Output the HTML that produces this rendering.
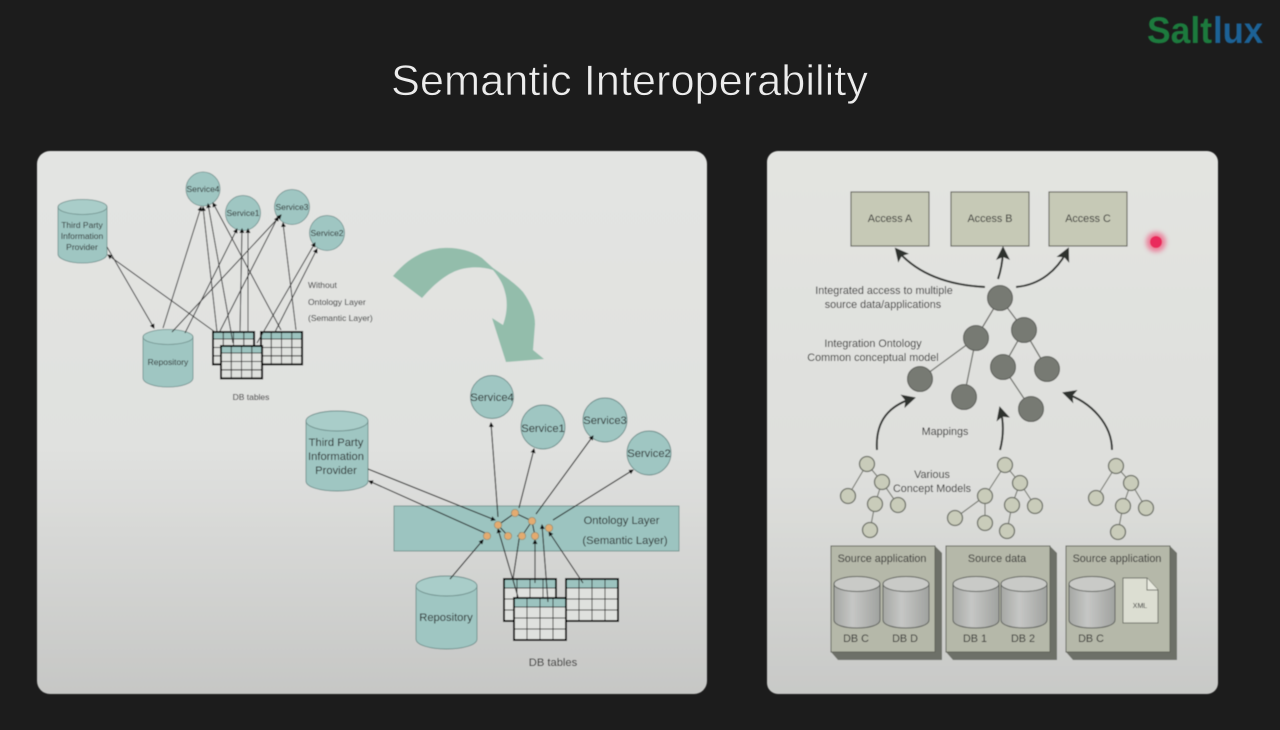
<!DOCTYPE html>
<html><head><meta charset="utf-8"><style>
html,body{margin:0;padding:0;background:#1c1c1c;width:1280px;height:730px;overflow:hidden}
svg{display:block}
text{font-family:"Liberation Sans",sans-serif}
</style></head><body>
<svg width="1280" height="730" viewBox="0 0 1280 730" xmlns="http://www.w3.org/2000/svg">
<defs>
<linearGradient id="p1" x1="0" y1="0" x2="0" y2="1"><stop offset="0" stop-color="#e3e4e2"/><stop offset=".55" stop-color="#e0e1df"/><stop offset="1" stop-color="#c6c7c5"/></linearGradient>
<linearGradient id="p2" x1="0" y1="0" x2="0" y2="1"><stop offset="0" stop-color="#e3e4e1"/><stop offset=".6" stop-color="#dedfdc"/><stop offset="1" stop-color="#c8c9c7"/></linearGradient>
<linearGradient id="db" x1="0" y1="0" x2="1" y2="0"><stop offset="0" stop-color="#a5a7a4"/><stop offset=".4" stop-color="#c6c7c5"/><stop offset="1" stop-color="#a0a29f"/></linearGradient>
<filter id="soft" x="-5%" y="-5%" width="110%" height="110%"><feGaussianBlur stdDeviation="0.5"/></filter>
<filter id="glow" x="-80%" y="-80%" width="260%" height="260%"><feGaussianBlur stdDeviation="2.5"/></filter>
<marker id="a" markerUnits="userSpaceOnUse" markerWidth="6" markerHeight="6" refX="4" refY="2.5" orient="auto"><path d="M0 0L5 2.5L0 5Z" fill="#111"/></marker>
<marker id="b" markerUnits="userSpaceOnUse" markerWidth="18" markerHeight="18" refX="12" refY="7" orient="auto"><path d="M0 0L14 7L0 14L3 7Z" fill="#2f312f"/></marker>
<g id="tbl">
<rect width="52" height="42" fill="#dfe1de"/>
<rect width="52" height="9" fill="#9cc3bf"/>
<path d="M13 0V42M26 0V42M39 0V42M0 9H52M0 20H52M0 31H52" stroke="#222" stroke-width=".9" fill="none" vector-effect="non-scaling-stroke"/>
<rect width="52" height="42" fill="none" stroke="#000" stroke-width="2" vector-effect="non-scaling-stroke"/>
</g>
<g id="dbc">
<path d="M0 8V44C0 49 10 52 23 52S46 49 46 44V8Z" fill="url(#db)" stroke="#5f625d" stroke-width="1"/>
<ellipse cx="23" cy="8" rx="23" ry="7.500" fill="#c9cac7" stroke="#5f625d" stroke-width="1"/>
</g>
<g id="box">
<path d="M104 0L111 7V114H7L0 106H104Z" fill="#6d7067"/>
<rect width="104" height="106" fill="#b5b8a9" stroke="#62655c" stroke-width="1"/>
</g>
</defs>

<rect width="1280" height="730" fill="#1c1c1c"/>
<text x="629.5" y="95" font-size="43" fill="#ececec" stroke="#1c1c1c" stroke-width=".7" text-anchor="middle" textLength="477" lengthAdjust="spacingAndGlyphs">Semantic Interoperability</text>
<g filter="url(#soft)">
<text x="1147" y="43" font-size="37" font-weight="bold" fill="#1f7a3e" textLength="65" lengthAdjust="spacingAndGlyphs">Salt</text>
<text x="1213" y="43" font-size="37" font-weight="bold" fill="#1f6296" textLength="50" lengthAdjust="spacingAndGlyphs">lux</text>
</g>

<g filter="url(#soft)">
<rect x="37" y="151" width="670" height="543" rx="13" fill="url(#p1)"/>
<rect x="767" y="151" width="451" height="543" rx="11" fill="url(#p2)"/>

<!-- big arrow -->
<path d="M393 276C408 258 425 249 443 248C458 247 472 251 482 258L493 268C506 277 517 285 523 292C531 303 535 314 535 324L533 350L544 359L506 362L492 318L503 325C507 314 508 302 505 292C503 283 498 276 493 270C484 267 475 267 467 268C450 270 435 283 422 298Z" fill="#93bdab"/>

<!-- LEFT top diagram -->
<g fill="#9fc6c2" stroke="#6f8f8c" stroke-width=".8">
<path d="M58 207V254C58 259 69 263 82.500 263S107 259 107 254V207Z"/><ellipse cx="82.500" cy="207" rx="24.500" ry="7.500" fill="#a9cdc9"/>
<path d="M143 337V378C143 383 154 387 168 387S193 383 193 378V337Z"/><ellipse cx="168" cy="337" rx="25" ry="7.500" fill="#a9cdc9"/>
<circle cx="203" cy="189" r="17"/><circle cx="243" cy="213" r="17.500"/><circle cx="292" cy="207" r="17.500"/><circle cx="327" cy="233" r="17.500"/>
</g>
<use href="#tbl" transform="translate(213 332) scale(.79 .77)"/>
<use href="#tbl" transform="translate(261 332) scale(.79 .77)"/>
<g stroke="#333" stroke-width="1" fill="none">
<path d="M107 247L154 328" marker-end="url(#a)"/>
<path d="M215 332L108 255" marker-end="url(#a)"/>
<path d="M163 328L201 207" marker-end="url(#a)"/>
<path d="M172 332L281 215" marker-end="url(#a)"/>
<path d="M185 333L237 229" marker-end="url(#a)"/>
<path d="M217 332L203 207" marker-end="url(#a)"/>
<path d="M233 343L208 204" marker-end="url(#a)"/>
<path d="M220 331L278 217" marker-end="url(#a)"/>
<path d="M240 332L242 229" marker-end="url(#a)"/>
<path d="M248 332L248 229" marker-end="url(#a)"/>
<path d="M257 343L315 243" marker-end="url(#a)"/>
<path d="M275 332L317 249" marker-end="url(#a)"/>
<path d="M296 330L283 223" marker-end="url(#a)"/>
<path d="M281 330L213 203" marker-end="url(#a)"/>
</g>
<use href="#tbl" transform="translate(221 346) scale(.79 .77)"/>
<g font-size="8.500" fill="#222" text-anchor="middle">
<text x="82" y="228">Third Party</text><text x="82" y="239">Information</text><text x="82" y="250">Provider</text>
<text x="168" y="365">Repository</text>
<text x="203" y="192">Service4</text><text x="243" y="216">Service1</text><text x="292" y="210">Service3</text><text x="327" y="236">Service2</text>
<text x="251" y="400">DB tables</text>
<text x="308" y="288" text-anchor="start">Without</text>
<text x="308" y="305" text-anchor="start">Ontology Layer</text>
<text x="308" y="321" text-anchor="start">(Semantic Layer)</text>
</g>

<!-- LEFT bottom diagram -->
<g fill="#9fc6c2" stroke="#6f8f8c" stroke-width=".9">
<path d="M306 421V481C306 487 320 491 337 491S368 487 368 481V421Z"/><ellipse cx="337" cy="421" rx="31" ry="10" fill="#a9cdc9"/>
<path d="M416 586V639C416 645 430 649 446.500 649S477 645 477 639V586Z"/><ellipse cx="446.500" cy="586" rx="30.500" ry="10" fill="#a9cdc9"/>
<circle cx="492" cy="397" r="21.500"/><circle cx="543" cy="427" r="22"/><circle cx="605" cy="420" r="22"/><circle cx="649" cy="453" r="22"/>
<rect x="394" y="506" width="285" height="45" fill="#9cc4c0"/>
</g>
<use href="#tbl" transform="translate(504 579)"/>
<use href="#tbl" transform="translate(566 579)"/>
<use href="#tbl" transform="translate(514 598)"/>
<g stroke="#222" stroke-width="1.100" fill="none">
<path d="M368 469L495 520" marker-end="url(#a)"/>
<path d="M485 533L369 481" marker-end="url(#a)"/>
<path d="M450 579L483 540" marker-end="url(#a)"/>
<path d="M498 517L491 423" marker-end="url(#a)"/>
<path d="M519 508L534 449" marker-end="url(#a)"/>
<path d="M536 514L593 436" marker-end="url(#a)"/>
<path d="M553 520L633 470" marker-end="url(#a)"/>
<path d="M518 597L498 529" marker-end="url(#a)"/>
<path d="M513 579L520 533" marker-end="url(#a)"/>
<path d="M535 583L535 540" marker-end="url(#a)"/>
<path d="M548 602L542 525" marker-end="url(#a)"/>
<path d="M583 583L549 532" marker-end="url(#a)"/>
<path d="M498 525L515 513L532 521M498 525L508 536M532 521L522 536M532 521L535 536"/>
</g>
<g fill="#e3ab70" stroke="#8a8a70" stroke-width=".7">
<circle cx="487" cy="536" r="3.700"/><circle cx="498" cy="525" r="3.700"/><circle cx="508" cy="536" r="3.700"/><circle cx="515" cy="513" r="3.700"/><circle cx="522" cy="536" r="3.700"/><circle cx="532" cy="521" r="3.700"/><circle cx="535" cy="536" r="3.700"/><circle cx="549" cy="528" r="3.700"/>
</g>
<g font-size="11.200" fill="#222" text-anchor="middle">
<text x="336" y="446">Third Party</text><text x="336" y="460">Information</text><text x="336" y="474">Provider</text>
<text x="446" y="621">Repository</text>
<text x="492" y="401">Service4</text><text x="543" y="432">Service1</text><text x="605" y="424">Service3</text><text x="649" y="457">Service2</text>
<text x="553" y="666">DB tables</text>
<text x="621.500" y="524">Ontology Layer</text>
<text x="625" y="544">(Semantic Layer)</text>
</g>

<!-- RIGHT diagram -->
<g fill="#c6c9b6" stroke="#5e6158" stroke-width="1.100">
<rect x="851" y="192" width="78" height="54"/><rect x="951" y="192" width="78" height="54"/><rect x="1049" y="192" width="78" height="54"/>
</g>
<g font-size="10.800" fill="#2a2a2a" text-anchor="middle">
<text x="884" y="294">Integrated access to multiple</text><text x="883" y="308">source data/applications</text>
<text x="873" y="347">Integration Ontology</text><text x="873" y="361">Common conceptual model</text>
<text x="945" y="435">Mappings</text>
<text x="932" y="478">Various</text><text x="932" y="492">Concept Models</text>
<text x="890" y="222">Access A</text><text x="990" y="222">Access B</text><text x="1088" y="222">Access C</text>
</g>
<circle cx="1156" cy="242" r="10" fill="#ee5a80" opacity=".7" filter="url(#glow)"/>
<circle cx="1156" cy="242" r="6" fill="#ea2a5c"/>

<g fill="none" stroke="#2f312f" stroke-width="2">
<path d="M985 287C945 285 915 272 896 249" marker-end="url(#b)"/>
<path d="M998 279C1001 270 1003 260 1003 248" marker-end="url(#b)"/>
<path d="M1016 287C1040 285 1058 270 1068 249" marker-end="url(#b)"/>
<path d="M877 450C875 420 890 405 914 398" marker-end="url(#b)"/>
<path d="M1000 450C1004 435 1004 422 1000 408" marker-end="url(#b)"/>
<path d="M1112 450C1112 425 1092 402 1064 393" marker-end="url(#b)"/>
</g>
<path d="M1000 298L976 338M1000 298L1024 330M976 338L920 379M976 338L964 397M1024 330L1003 367M1024 330L1047 369M1003 367L1031 409" stroke="#6f716c" stroke-width="1.300" fill="none"/>
<g fill="#777a73" stroke="#5b5d58" stroke-width="1">
<circle cx="1000" cy="298" r="12.500"/><circle cx="976" cy="338" r="12.500"/><circle cx="1024" cy="330" r="12.500"/><circle cx="920" cy="379" r="12.500"/><circle cx="964" cy="397" r="12.500"/><circle cx="1003" cy="367" r="12.500"/><circle cx="1047" cy="369" r="12.500"/><circle cx="1031" cy="409" r="12.500"/>
</g>

<path d="M867 464L882 482M867 464L848 496M882 482L875 504M882 482L898 505M875 504L870 530M1005 465L1020 483M1005 465L985 496M985 496L955 518M985 496L985 523M1020 483L1012 505M1020 483L1035 506M1012 505L1007 531M1116 466L1131 483M1116 466L1096 498M1131 483L1123 506M1131 483L1146 508M1123 506L1118 532" stroke="#72756c" stroke-width="1.100" fill="none"/>
<g fill="#c9ccba" stroke="#6c6f66" stroke-width="1.300">
<circle cx="867" cy="464" r="7.500"/><circle cx="882" cy="482" r="7.500"/><circle cx="848" cy="496" r="7.500"/><circle cx="875" cy="504" r="7.500"/><circle cx="898" cy="505" r="7.500"/><circle cx="870" cy="530" r="7.500"/>
<circle cx="1005" cy="465" r="7.500"/><circle cx="1020" cy="483" r="7.500"/><circle cx="985" cy="496" r="7.500"/><circle cx="1012" cy="505" r="7.500"/><circle cx="1035" cy="506" r="7.500"/><circle cx="955" cy="518" r="7.500"/><circle cx="985" cy="523" r="7.500"/><circle cx="1007" cy="531" r="7.500"/>
<circle cx="1116" cy="466" r="7.500"/><circle cx="1131" cy="483" r="7.500"/><circle cx="1096" cy="498" r="7.500"/><circle cx="1123" cy="506" r="7.500"/><circle cx="1146" cy="508" r="7.500"/><circle cx="1118" cy="532" r="7.500"/>
</g>

<use href="#box" transform="translate(831 546)"/>
<use href="#box" transform="translate(946 546)"/>
<use href="#box" transform="translate(1066 546)"/>
<use href="#dbc" transform="translate(834 576)"/>
<use href="#dbc" transform="translate(883 576)"/>
<use href="#dbc" transform="translate(953 576)"/>
<use href="#dbc" transform="translate(1001 576)"/>
<use href="#dbc" transform="translate(1069 576)"/>
<path d="M1123 578H1147L1158 590V623H1123Z" fill="#dcded2" stroke="#6c6f66"/>
<path d="M1147 578V590H1158" fill="#e8e9df" stroke="#6c6f66"/>
<g font-size="10.800" fill="#2a2a2a" text-anchor="middle">
<text x="882" y="562">Source application</text>
<text x="997" y="562">Source data</text>
<text x="1117" y="562">Source application</text>
<text x="856" y="642">DB C</text><text x="905" y="642">DB D</text>
<text x="975" y="642">DB 1</text><text x="1023" y="642">DB 2</text>
<text x="1091" y="642">DB C</text>
<text x="1140" y="608" font-size="7">XML</text>
</g>
</g>
</svg>
</body></html>
